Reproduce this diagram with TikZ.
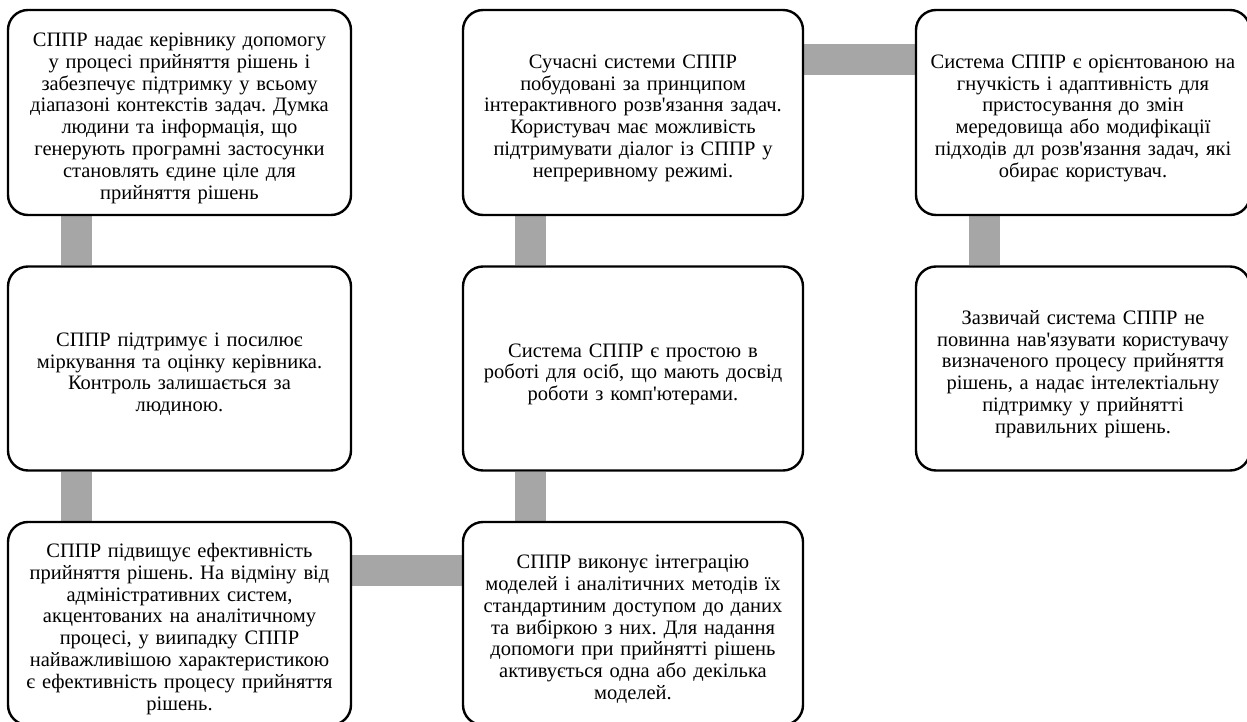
\documentclass[tikz,border=0pt]{standalone}
\usepackage{fontspec}
\setmainfont{Liberation Serif}[Ligatures=TeXOff]
\usetikzlibrary{backgrounds}
\tikzset{
  box/.style={draw=black, line width=2.4pt, rounded corners=20pt, fill=white,
    align=center, text width=330pt, inner sep=0pt,
    font=\fontsize{20.5}{21.8}\selectfont\frenchspacing,
    execute at begin node={\rule{0pt}{25pt}}},
  bar/.style={draw=barcol, line width=31pt, line cap=butt}
}
\definecolor{barcol}{HTML}{A6A6A6}
\begin{document}
\begin{tikzpicture}[x=1pt,y=1pt]
\useasboundingbox (0,0) rectangle (1247,-722);
% column 1
\node[box, minimum width=343pt, minimum height=205pt] (b1) at (179.5,-112.5)
 {СППР надає керівнику допомогу\\у процесі прийняття рішень і\\забезпечує підтримку у всьому\\діапазоні контекстів задач. Думка\\людини та інформація, що\\генерують програмні застосунки\\становлять єдине ціле для\\прийняття рішень};
\node[box, minimum width=343pt, minimum height=204pt] (b2) at (179.5,-368.5)
 {СППР підтримує і посилює\\міркування та оцінку керівника.\\Контроль залишається за\\людиною.};
\node[box, minimum width=343pt, minimum height=203pt] (b3) at (179.5,-623.5)
 {СППР підвищує ефективність\\прийняття рішень. На відміну від\\адміністративних систем,\\акцентованих на аналітичному\\процесі, у виипадку СППР\\найважливішою характеристикою\\є ефективність процесу прийняття\\рішень.};
% column 2
\node[box, minimum width=340pt, minimum height=203pt] (b4) at (633,-623.5)
 {СППР виконує інтеграцію\\моделей і аналітичних методів їх\\стандартиним доступом до даних\\та вибіркою з них. Для надання\\допомоги при прийнятті рішень\\активується одна або декілька\\моделей.};
\node[box, minimum width=340pt, minimum height=204pt] (b5) at (633,-368.5)
 {Система СППР є простою в\\роботі для осіб, що мають досвід\\роботи з комп'ютерами.};
\node[box, minimum width=340pt, minimum height=205pt] (b6) at (633,-112.5)
 {Сучасні системи СППР\\побудовані за принципом\\інтерактивного розв'язання задач.\\Користувач має можливість\\підтримувати діалог із СППР у\\непреривному режимі.};
% column 3
\node[box, minimum width=334pt, minimum height=205pt] (b7) at (1083,-112.5)
 {Система СППР є орієнтованою на\\гнучкість і адаптивність для\\пристосування до змін\\мередовища або модифікації\\підходів дл розв'язання задач, які\\обирає користувач.};
\node[box, minimum width=334pt, minimum height=204pt] (b8) at (1083,-368.5)
 {Зазвичай система СППР не\\повинна нав'язувати користувачу\\визначеного процесу прийняття\\рішень, а надає інтелектіальну\\підтримку у прийнятті\\правильних рішень.};
% connectors
\begin{scope}[on background layer]
\draw[bar] ([xshift=70pt]b1.south west) -- ([xshift=70pt]b2.north west);
\draw[bar] ([xshift=70pt]b2.south west) -- ([xshift=70pt]b3.north west);
\draw[bar] ([yshift=-50pt]b3.north east) -- ([yshift=-50pt]b4.north west);
\draw[bar] ([xshift=69pt]b4.north west) -- ([xshift=69pt]b5.south west);
\draw[bar] ([xshift=69pt]b5.north west) -- ([xshift=69pt]b6.south west);
\draw[bar] ([yshift=-51pt]b6.north east) -- ([yshift=-51pt]b7.north west);
\draw[bar] ([xshift=69.5pt]b7.south west) -- ([xshift=69.5pt]b8.north west);
\end{scope}
\end{tikzpicture}
\end{document}
